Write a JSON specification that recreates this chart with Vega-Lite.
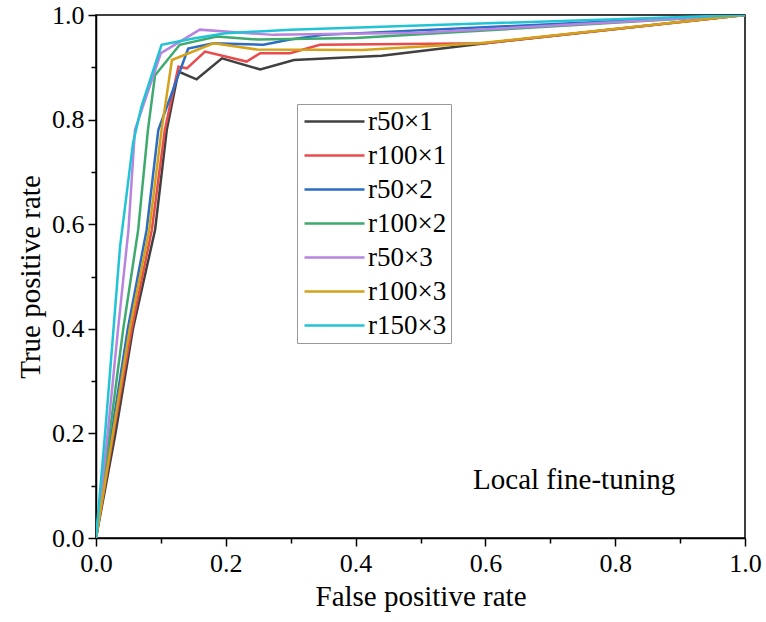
{
  "$schema": "https://vega.github.io/schema/vega-lite/v6.json",
  "autosize": "none",
  "width": 649,
  "height": 523,
  "padding": {"left": 96, "top": 15, "right": 21, "bottom": 84},
  "background": "white",
  "config": {
    "font": "Liberation Serif",
    "view": {"stroke": "black", "strokeWidth": 1.5},
    "axis": {
      "domainColor": "black", "domainWidth": 1.5,
      "tickColor": "black", "tickWidth": 1.5,
      "labelFont": "Liberation Serif", "labelFontSize": 26, "labelColor": "black",
      "titleFont": "Liberation Serif", "titleFontSize": 29, "titleFontWeight": "normal", "titleColor": "black",
      "grid": false
    }
  },
  "layer": [
    {
      "data": {"values": [
        {"s": "r50×1", "x": 0, "y": 0}, {"s": "r50×1", "x": 0.03, "y": 0.2}, {"s": "r50×1", "x": 0.057, "y": 0.4}, {"s": "r50×1", "x": 0.091, "y": 0.589}, {"s": "r50×1", "x": 0.109, "y": 0.78}, {"s": "r50×1", "x": 0.127, "y": 0.892}, {"s": "r50×1", "x": 0.155, "y": 0.877}, {"s": "r50×1", "x": 0.194, "y": 0.917}, {"s": "r50×1", "x": 0.253, "y": 0.896}, {"s": "r50×1", "x": 0.305, "y": 0.914}, {"s": "r50×1", "x": 0.44, "y": 0.922}, {"s": "r50×1", "x": 0.6, "y": 0.946}, {"s": "r50×1", "x": 1, "y": 1},
        {"s": "r100×1", "x": 0, "y": 0}, {"s": "r100×1", "x": 0.027, "y": 0.2}, {"s": "r100×1", "x": 0.055, "y": 0.4}, {"s": "r100×1", "x": 0.086, "y": 0.589}, {"s": "r100×1", "x": 0.106, "y": 0.78}, {"s": "r100×1", "x": 0.127, "y": 0.901}, {"s": "r100×1", "x": 0.14, "y": 0.898}, {"s": "r100×1", "x": 0.168, "y": 0.93}, {"s": "r100×1", "x": 0.232, "y": 0.911}, {"s": "r100×1", "x": 0.253, "y": 0.927}, {"s": "r100×1", "x": 0.299, "y": 0.927}, {"s": "r100×1", "x": 0.345, "y": 0.943}, {"s": "r100×1", "x": 0.6, "y": 0.946}, {"s": "r100×1", "x": 1, "y": 1},
        {"s": "r50×2", "x": 0, "y": 0}, {"s": "r50×2", "x": 0.024, "y": 0.2}, {"s": "r50×2", "x": 0.049, "y": 0.4}, {"s": "r50×2", "x": 0.078, "y": 0.589}, {"s": "r50×2", "x": 0.096, "y": 0.78}, {"s": "r50×2", "x": 0.142, "y": 0.936}, {"s": "r50×2", "x": 0.181, "y": 0.946}, {"s": "r50×2", "x": 0.258, "y": 0.943}, {"s": "r50×2", "x": 0.299, "y": 0.953}, {"s": "r50×2", "x": 0.35, "y": 0.962}, {"s": "r50×2", "x": 1, "y": 1},
        {"s": "r100×2", "x": 0, "y": 0}, {"s": "r100×2", "x": 0.021, "y": 0.2}, {"s": "r100×2", "x": 0.042, "y": 0.4}, {"s": "r100×2", "x": 0.065, "y": 0.589}, {"s": "r100×2", "x": 0.08, "y": 0.78}, {"s": "r100×2", "x": 0.091, "y": 0.885}, {"s": "r100×2", "x": 0.129, "y": 0.943}, {"s": "r100×2", "x": 0.186, "y": 0.959}, {"s": "r100×2", "x": 0.25, "y": 0.953}, {"s": "r100×2", "x": 0.4, "y": 0.956}, {"s": "r100×2", "x": 1, "y": 1},
        {"s": "r50×3", "x": 0, "y": 0}, {"s": "r50×3", "x": 0.018, "y": 0.2}, {"s": "r50×3", "x": 0.034, "y": 0.4}, {"s": "r50×3", "x": 0.05, "y": 0.589}, {"s": "r50×3", "x": 0.06, "y": 0.78}, {"s": "r50×3", "x": 0.1, "y": 0.927}, {"s": "r50×3", "x": 0.16, "y": 0.972}, {"s": "r50×3", "x": 0.273, "y": 0.962}, {"s": "r50×3", "x": 0.5, "y": 0.966}, {"s": "r50×3", "x": 1, "y": 1},
        {"s": "r100×3", "x": 0, "y": 0}, {"s": "r100×3", "x": 0.026, "y": 0.2}, {"s": "r100×3", "x": 0.052, "y": 0.4}, {"s": "r100×3", "x": 0.082, "y": 0.589}, {"s": "r100×3", "x": 0.101, "y": 0.78}, {"s": "r100×3", "x": 0.117, "y": 0.914}, {"s": "r100×3", "x": 0.181, "y": 0.946}, {"s": "r100×3", "x": 0.248, "y": 0.934}, {"s": "r100×3", "x": 0.41, "y": 0.933}, {"s": "r100×3", "x": 0.59, "y": 0.946}, {"s": "r100×3", "x": 1, "y": 1},
        {"s": "r150×3", "x": 0, "y": 0}, {"s": "r150×3", "x": 0.014, "y": 0.2}, {"s": "r150×3", "x": 0.027, "y": 0.4}, {"s": "r150×3", "x": 0.037, "y": 0.556}, {"s": "r150×3", "x": 0.057, "y": 0.755}, {"s": "r150×3", "x": 0.07, "y": 0.825}, {"s": "r150×3", "x": 0.101, "y": 0.943}, {"s": "r150×3", "x": 0.15, "y": 0.955}, {"s": "r150×3", "x": 0.2, "y": 0.965}, {"s": "r150×3", "x": 0.3, "y": 0.972}, {"s": "r150×3", "x": 1, "y": 1}
      ]},
      "mark": {"type": "line", "strokeWidth": 2.5, "clip": true},
      "encoding": {
        "x": {"field": "x", "type": "quantitative", "scale": {"domain": [0, 1], "nice": false},
          "axis": {"values": [0, 0.1, 0.2, 0.3, 0.4, 0.5, 0.6, 0.7, 0.8, 0.9, 1.0], "format": ".1f",
            "labelExpr": "round(datum.value*10) % 2 == 0 ? datum.label : ''",
            "tickSize": {"condition": {"test": "round(datum.value*10) % 2 == 0", "value": 8}, "value": 5},
            "labelPadding": 4, "title": "False positive rate", "titlePadding": 6, "labelFlush": false}},
        "y": {"field": "y", "type": "quantitative", "scale": {"domain": [0, 1], "nice": false},
          "axis": {"values": [0, 0.1, 0.2, 0.3, 0.4, 0.5, 0.6, 0.7, 0.8, 0.9, 1.0], "format": ".1f",
            "labelExpr": "round(datum.value*10) % 2 == 0 ? datum.label : ''",
            "tickSize": {"condition": {"test": "round(datum.value*10) % 2 == 0", "value": 8}, "value": 5},
            "labelPadding": 4, "title": "True positive rate", "titlePadding": 6, "labelFlush": false}},
        "color": {"field": "s", "type": "nominal",
          "scale": {"domain": ["r50×1", "r100×1", "r50×2", "r100×2", "r50×3", "r100×3", "r150×3"],
            "range": ["#404040", "#e84c4c", "#2b6cc4", "#3daa6e", "#b784e0", "#d4a21a", "#20c4d4"]},
          "legend": {"orient": "none", "legendX": 201, "legendY": 89, "title": null,
            "symbolType": "M-3,0H3", "symbolSize": 400, "symbolStrokeWidth": 2.5, "symbolOffset": 20,
            "labelFont": "Liberation Serif", "labelFontSize": 27, "labelColor": "black",
            "strokeColor": "#999999", "padding": 4, "rowPadding": 6, "labelOffset": 20}}
      }
    },
    {
      "data": {"values": [{"x": 0.581, "y": 0.111, "t": "Local fine-tuning"}]},
      "mark": {"type": "text", "align": "left", "baseline": "middle", "fontSize": 29, "font": "Liberation Serif", "color": "black"},
      "encoding": {
        "x": {"field": "x", "type": "quantitative"},
        "y": {"field": "y", "type": "quantitative"},
        "text": {"field": "t"}
      }
    }
  ]
}
